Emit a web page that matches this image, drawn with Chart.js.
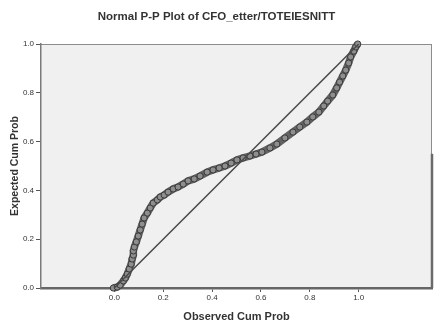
<!DOCTYPE html>
<html>
<head>
<meta charset="utf-8">
<script src="https://cdn.jsdelivr.net/npm/chart.js@4.4.0/dist/chart.umd.min.js"></script>
<style>
  html, body { margin: 0; padding: 0; background: #fff; }
  #wrap { width: 437px; height: 326px; }
</style>
</head>
<body>
<div id="wrap"><canvas id="ppChart"></canvas></div>
<script>
// P-P plot values (observed vs expected cumulative probability)
const observedCum = [
  -0.004, 0.012, 0.024, 0.037, 0.045, 0.053, 0.061, 0.069, 0.073, 0.078,
  0.078, 0.082, 0.090, 0.098, 0.106, 0.114, 0.122, 0.135, 0.147, 0.159,
  0.176, 0.188, 0.204, 0.220, 0.241, 0.261, 0.282, 0.302, 0.327, 0.351,
  0.380, 0.404, 0.429, 0.453, 0.478, 0.502, 0.527, 0.555, 0.580, 0.604,
  0.637, 0.665, 0.698, 0.731, 0.759, 0.788, 0.812, 0.837, 0.857, 0.873,
  0.894, 0.910, 0.922, 0.935, 0.947, 0.959, 0.967, 0.980, 0.988, 0.996
];
const expectedCum = [
  0.000, 0.004, 0.012, 0.029, 0.041, 0.057, 0.078, 0.098, 0.119, 0.135,
  0.152, 0.168, 0.189, 0.213, 0.238, 0.262, 0.287, 0.307, 0.328, 0.348,
  0.361, 0.373, 0.381, 0.393, 0.406, 0.414, 0.426, 0.439, 0.447, 0.459,
  0.475, 0.484, 0.492, 0.500, 0.512, 0.525, 0.533, 0.541, 0.549, 0.557,
  0.574, 0.590, 0.615, 0.639, 0.660, 0.680, 0.701, 0.721, 0.746, 0.766,
  0.791, 0.820, 0.844, 0.869, 0.893, 0.922, 0.947, 0.971, 0.988, 1.000
];
const diagonalX = [0, 1];
const diagonalY = [0, 1];

const xTicks = [0, 0.2, 0.4, 0.6, 0.8, 1.0];
const xTickLabels = ['0.0', '0.2', '0.4', '0.6', '0.8', '1.0'];
const yTicks = [0, 0.2, 0.4, 0.6, 0.8, 1.0];
const yTickLabels = ['0.0', '0.2', '0.4', '0.6', '0.8', '1.0'];

const FONT = "'Liberation Sans', Arial, sans-serif";

// grey plot background + frame like the SPSS output
const plotFrame = {
  id: 'plotFrame',
  beforeDraw(chart) {
    const { ctx, chartArea: a } = chart;
    ctx.save();
    ctx.fillStyle = '#f0f0f0';
    ctx.fillRect(a.left, a.top, a.right - a.left, a.bottom - a.top);
    ctx.strokeStyle = '#8c8c8c';
    ctx.lineWidth = 1;
    ctx.beginPath();
    ctx.moveTo(a.left, a.top + 0.5);
    ctx.lineTo(a.right, a.top + 0.5);
    ctx.moveTo(a.right - 0.5, a.top);
    ctx.lineTo(a.right - 0.5, a.bottom);
    ctx.stroke();
    // lower half of the right edge is heavier in the source
    const yMid = chart.scales.y.getPixelForValue(0.55);
    ctx.strokeStyle = '#6a6a6a';
    ctx.lineWidth = 2.5;
    ctx.beginPath();
    ctx.moveTo(a.right, yMid);
    ctx.lineTo(a.right, a.bottom);
    ctx.stroke();
    ctx.restore();
  }
};

new Chart(document.getElementById('ppChart'), {
  type: 'scatter',
  data: {
    datasets: [
      {
        label: 'Diagonal',
        data: diagonalX.map((x, i) => ({ x: x, y: diagonalY[i] })),
        showLine: true,
        borderColor: '#4a4a4a',
        borderWidth: 1.5,
        pointRadius: 0
      },
      {
        label: 'Observed',
        data: observedCum.map((x, i) => ({ x: x, y: expectedCum[i] })),
        showLine: true,
        borderColor: '#626262',
        borderWidth: 7.5,
        pointRadius: 3.1,
        pointBackgroundColor: '#8e8e8e',
        pointBorderColor: '#3a3a3a',
        pointBorderWidth: 1,
        clip: false
      }
    ]
  },
  options: {
    responsive: true,
    maintainAspectRatio: false,
    animation: false,
    layout: { padding: { top: 0, right: 4, bottom: 0, left: 0 } },
    plugins: {
      legend: { display: false },
      tooltip: { enabled: false },
      title: {
        display: true,
        text: 'Normal P-P Plot of CFO_etter/TOTEIESNITT',
        color: '#333',
        font: { family: FONT, size: 11.5, weight: 'bold' },
        padding: { top: 10, bottom: 20.2 }
      }
    },
    scales: {
      x: {
        type: 'linear',
        min: -0.3,
        max: 1.3,
        afterBuildTicks: s => { s.ticks = xTicks.map(v => ({ value: v })); },
        afterFit: s => { s.height = 38; },
        ticks: {
          callback: (v, i) => xTickLabels[i],
          color: '#333',
          font: { family: FONT, size: 8 },
          padding: 1,
          maxRotation: 0,
          autoSkip: false
        },
        grid: { drawOnChartArea: false, tickLength: 4, color: '#555' },
        border: { color: '#666', width: 2.5 },
        title: {
          display: true,
          text: 'Observed Cum Prob',
          color: '#333',
          font: { family: FONT, size: 11, weight: 'bold' },
          padding: { top: 2, bottom: 2.5 }
        }
      },
      y: {
        type: 'linear',
        min: 0,
        max: 1,
        afterBuildTicks: s => { s.ticks = yTicks.map(v => ({ value: v })); },
        afterFit: s => { s.width = 41; },
        ticks: {
          callback: (v, i) => yTickLabels[i],
          color: '#333',
          font: { family: FONT, size: 8 },
          padding: 2,
          autoSkip: false
        },
        grid: { drawOnChartArea: false, tickLength: 5, color: '#555' },
        border: { color: '#7a7a7a', width: 1.5 },
        title: {
          display: true,
          text: 'Expected Cum Prob',
          color: '#333',
          font: { family: FONT, size: 10.5, weight: 'bold' },
          padding: { top: 8.7, bottom: 0 }
        }
      }
    }
  },
  plugins: [plotFrame]
});
</script>
</body>
</html>
